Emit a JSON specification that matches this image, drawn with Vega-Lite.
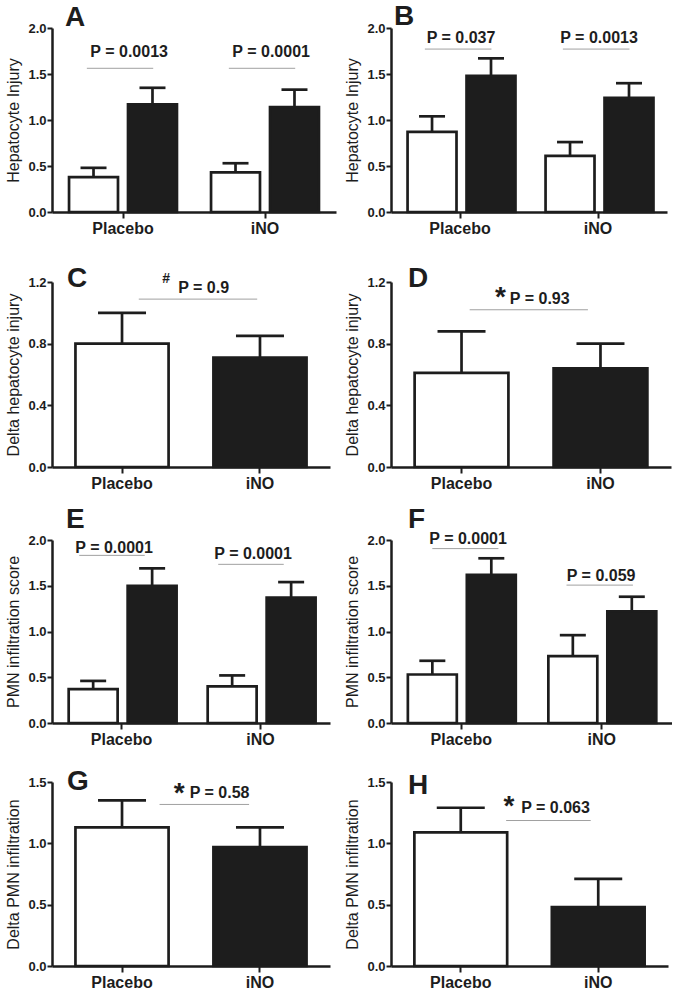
{
"$schema":"https://vega.github.io/schema/vega-lite/v6.json",
"padding":{"left":5,"top":2,"right":0,"bottom":0},
"columns":2,
"spacing":{"row":59,"column":55},
"bounds":"flush",
"align":"each",
"datasets":{
"bars":[
{"panel":"A","group":"Placebo","phase":"Before","mean":0.38,"upper":0.48},
{"panel":"A","group":"Placebo","phase":"After","mean":1.17,"upper":1.35},
{"panel":"A","group":"iNO","phase":"Before","mean":0.43,"upper":0.53},
{"panel":"A","group":"iNO","phase":"After","mean":1.14,"upper":1.33},
{"panel":"B","group":"Placebo","phase":"Before","mean":0.87,"upper":1.04},
{"panel":"B","group":"Placebo","phase":"After","mean":1.48,"upper":1.67},
{"panel":"B","group":"iNO","phase":"Before","mean":0.61,"upper":0.76},
{"panel":"B","group":"iNO","phase":"After","mean":1.24,"upper":1.40},
{"panel":"C","group":"Placebo","mean":0.80,"upper":1.00},
{"panel":"C","group":"iNO","mean":0.71,"upper":0.85},
{"panel":"D","group":"Placebo","mean":0.61,"upper":0.88},
{"panel":"D","group":"iNO","mean":0.64,"upper":0.80},
{"panel":"E","group":"Placebo","phase":"Before","mean":0.37,"upper":0.46},
{"panel":"E","group":"Placebo","phase":"After","mean":1.50,"upper":1.69},
{"panel":"E","group":"iNO","phase":"Before","mean":0.40,"upper":0.52},
{"panel":"E","group":"iNO","phase":"After","mean":1.37,"upper":1.54},
{"panel":"F","group":"Placebo","phase":"Before","mean":0.53,"upper":0.68},
{"panel":"F","group":"Placebo","phase":"After","mean":1.62,"upper":1.80},
{"panel":"F","group":"iNO","phase":"Before","mean":0.73,"upper":0.96},
{"panel":"F","group":"iNO","phase":"After","mean":1.22,"upper":1.38},
{"panel":"G","group":"Placebo","mean":1.13,"upper":1.35},
{"panel":"G","group":"iNO","mean":0.97,"upper":1.13},
{"panel":"H","group":"Placebo","mean":1.09,"upper":1.29},
{"panel":"H","group":"iNO","mean":0.48,"upper":0.71}
]
},
"concat":[
{
"width":284,"height":184,
"title":{"text":"A","dx":13,"offset":-9.5},
"layer":[
{"data":{"name":"bars"},"transform":[{"filter":"datum.panel === 'A'"}],
"encoding":{
"x":{"field":"group","type":"nominal","title":null,"scale":{"domain":["Placebo","iNO"],"paddingInner":0.24,"paddingOuter":0.12},"axis":{"labelAngle":0}},
"xOffset":{"field":"phase","type":"nominal","scale":{"domain":["Before","After"],"paddingInner":0.17,"paddingOuter":0}}},
"layer":[
{"mark":{"type":"bar","stroke":"#1d1d1d","strokeWidth":2.7},
"encoding":{"y":{"field":"mean","type":"quantitative","title":"Hepatocyte Injury","scale":{"domain":[0,2],"nice":false},"axis":{"values":[0,0.5,1,1.5,2],"format":".1f"}},
"fill":{"field":"phase","type":"nominal","scale":{"domain":["Before","After"],"range":["#ffffff","#1d1d1d"]},"legend":null}}},
{"mark":{"type":"rule","stroke":"#1d1d1d","strokeWidth":2.7},
"encoding":{"y":{"field":"mean","type":"quantitative","title":"Hepatocyte Injury"},"y2":{"field":"upper"}}},
{"mark":{"type":"tick","orient":"horizontal","size":26,"thickness":2.7,"color":"#1d1d1d","opacity":1},
"encoding":{"y":{"field":"upper","type":"quantitative","title":"Hepatocyte Injury"}}}
]},
{"data":{"values":[{"group":"Placebo","label":"P = 0.0013"},{"group":"iNO","label":"P = 0.0001"}]},
"layer":[
{"mark":{"type":"rule","stroke":"#a0a0a0","strokeWidth":1},
"encoding":{"x":{"field":"group","type":"nominal","title":null,"bandPosition":0.165},"x2":{"field":"group","bandPosition":0.78},"y":{"datum":1.562,"type":"quantitative","title":"Hepatocyte Injury"}}},
{"mark":{"type":"text","fontSize":16,"fontWeight":"bold","baseline":"alphabetic","color":"#1d1d1d"},
"encoding":{"x":{"field":"group","type":"nominal","title":null,"bandPosition":0.557},"y":{"datum":1.69,"type":"quantitative","title":"Hepatocyte Injury"},"text":{"field":"label"}}}
]}
]
},
{
"width":276,"height":184,
"title":{"text":"B","dx":3,"offset":-8.5},
"layer":[
{"data":{"name":"bars"},"transform":[{"filter":"datum.panel === 'B'"}],
"encoding":{
"x":{"field":"group","type":"nominal","title":null,"scale":{"domain":["Placebo","iNO"],"paddingInner":0.24,"paddingOuter":0.12},"axis":{"labelAngle":0}},
"xOffset":{"field":"phase","type":"nominal","scale":{"domain":["Before","After"],"paddingInner":0.17,"paddingOuter":0}}},
"layer":[
{"mark":{"type":"bar","stroke":"#1d1d1d","strokeWidth":2.7},
"encoding":{"y":{"field":"mean","type":"quantitative","title":"Hepatocyte Injury","scale":{"domain":[0,2],"nice":false},"axis":{"values":[0,0.5,1,1.5,2],"format":".1f"}},
"fill":{"field":"phase","type":"nominal","scale":{"domain":["Before","After"],"range":["#ffffff","#1d1d1d"]},"legend":null}}},
{"mark":{"type":"rule","stroke":"#1d1d1d","strokeWidth":2.7},
"encoding":{"y":{"field":"mean","type":"quantitative","title":"Hepatocyte Injury"},"y2":{"field":"upper"}}},
{"mark":{"type":"tick","orient":"horizontal","size":26,"thickness":2.7,"color":"#1d1d1d","opacity":1},
"encoding":{"y":{"field":"upper","type":"quantitative","title":"Hepatocyte Injury"}}}
]},
{"data":{"values":[{"group":"Placebo","label":"P = 0.037"},{"group":"iNO","label":"P = 0.0013"}]},
"layer":[
{"mark":{"type":"rule","stroke":"#a0a0a0","strokeWidth":1},
"encoding":{"x":{"field":"group","type":"nominal","title":null,"bandPosition":0.165},"x2":{"field":"group","bandPosition":0.8},"y":{"datum":1.771,"type":"quantitative","title":"Hepatocyte Injury"}}},
{"mark":{"type":"text","fontSize":16,"fontWeight":"bold","baseline":"alphabetic","color":"#1d1d1d"},
"encoding":{"x":{"field":"group","type":"nominal","title":null,"bandPosition":0.51},"y":{"datum":1.836,"type":"quantitative","title":"Hepatocyte Injury"},"text":{"field":"label"}}}
]}
]
},
{
"width":278,"height":196,
"title":{"text":"C","dx":15,"offset":-22},
"layer":[
{"data":{"name":"bars"},"transform":[{"filter":"datum.panel === 'C'"}],
"encoding":{
"x":{"field":"group","type":"nominal","title":null,"scale":{"domain":["Placebo","iNO"],"paddingInner":0.325,"paddingOuter":0.17},"axis":{"labelAngle":0}}},
"layer":[
{"mark":{"type":"bar","stroke":"#1d1d1d","strokeWidth":2.7},
"encoding":{"y":{"field":"mean","type":"quantitative","title":"Delta hepatocyte injury","scale":{"domain":[0,1.2],"nice":false,"range":[196,11]},"axis":{"values":[0,0.4,0.8,1.2],"format":".1f"}},
"fill":{"field":"group","type":"nominal","scale":{"domain":["Placebo","iNO"],"range":["#ffffff","#1d1d1d"]},"legend":null}}},
{"mark":{"type":"rule","stroke":"#1d1d1d","strokeWidth":2.7},
"encoding":{"y":{"field":"mean","type":"quantitative","title":"Delta hepatocyte injury"},"y2":{"field":"upper"}}},
{"mark":{"type":"tick","orient":"horizontal","size":48,"thickness":2.7,"color":"#1d1d1d","opacity":1},
"encoding":{"y":{"field":"upper","type":"quantitative","title":"Delta hepatocyte injury"}}}
]},
{"data":{"values":[{"from":"Placebo","to":"iNO","label":"P = 0.9","sign":"#"}]},
"layer":[
{"mark":{"type":"rule","stroke":"#a0a0a0","strokeWidth":1},
"encoding":{"x":{"field":"from","type":"nominal","title":null,"bandPosition":0.68},"x2":{"field":"to","bandPosition":0.47},"y":{"datum":1.089,"type":"quantitative","title":"Delta hepatocyte injury"}}},
{"mark":{"type":"text","fontSize":16,"fontWeight":"bold","baseline":"alphabetic","color":"#1d1d1d"},
"encoding":{"x":{"field":"from","type":"nominal","title":null,"bandPosition":1.376},"y":{"datum":1.128,"type":"quantitative","title":"Delta hepatocyte injury"},"text":{"field":"label"}}},
{"mark":{"type":"text","fontSize":14,"fontWeight":"bold","baseline":"alphabetic","color":"#1d1d1d"},
"encoding":{"x":{"field":"from","type":"nominal","title":null,"bandPosition":0.975},"y":{"datum":1.193,"type":"quantitative","title":"Delta hepatocyte injury"},"text":{"field":"sign"}}}
]}
]
},
{
"width":280,"height":196,
"title":{"text":"D","dx":17,"offset":-22},
"layer":[
{"data":{"name":"bars"},"transform":[{"filter":"datum.panel === 'D'"}],
"encoding":{
"x":{"field":"group","type":"nominal","title":null,"scale":{"domain":["Placebo","iNO"],"paddingInner":0.325,"paddingOuter":0.17},"axis":{"labelAngle":0}}},
"layer":[
{"mark":{"type":"bar","stroke":"#1d1d1d","strokeWidth":2.7},
"encoding":{"y":{"field":"mean","type":"quantitative","title":"Delta hepatocyte injury","scale":{"domain":[0,1.2],"nice":false,"range":[196,11]},"axis":{"values":[0,0.4,0.8,1.2],"format":".1f"}},
"fill":{"field":"group","type":"nominal","scale":{"domain":["Placebo","iNO"],"range":["#ffffff","#1d1d1d"]},"legend":null}}},
{"mark":{"type":"rule","stroke":"#1d1d1d","strokeWidth":2.7},
"encoding":{"y":{"field":"mean","type":"quantitative","title":"Delta hepatocyte injury"},"y2":{"field":"upper"}}},
{"mark":{"type":"tick","orient":"horizontal","size":48,"thickness":2.7,"color":"#1d1d1d","opacity":1},
"encoding":{"y":{"field":"upper","type":"quantitative","title":"Delta hepatocyte injury"}}}
]},
{"data":{"values":[{"from":"Placebo","to":"iNO","label":"P = 0.93","sign":"*"}]},
"layer":[
{"mark":{"type":"rule","stroke":"#a0a0a0","strokeWidth":1},
"encoding":{"x":{"field":"from","type":"nominal","title":null,"bandPosition":0.587},"x2":{"field":"to","bandPosition":0.366},"y":{"datum":1.02,"type":"quantitative","title":"Delta hepatocyte injury"}}},
{"mark":{"type":"text","fontSize":16,"fontWeight":"bold","baseline":"alphabetic","color":"#1d1d1d"},
"encoding":{"x":{"field":"from","type":"nominal","title":null,"bandPosition":1.334},"y":{"datum":1.059,"type":"quantitative","title":"Delta hepatocyte injury"},"text":{"field":"label"}}},
{"mark":{"type":"text","fontSize":28,"fontWeight":"bold","baseline":"alphabetic","color":"#1d1d1d"},
"encoding":{"x":{"field":"from","type":"nominal","title":null,"bandPosition":0.916},"y":{"datum":1.043,"type":"quantitative","title":"Delta hepatocyte injury"},"text":{"field":"sign"}}}
]}
]
},
{
"width":278,"height":197,
"title":{"text":"E","dx":14,"offset":-8},
"layer":[
{"data":{"name":"bars"},"transform":[{"filter":"datum.panel === 'E'"}],
"encoding":{
"x":{"field":"group","type":"nominal","title":null,"scale":{"domain":["Placebo","iNO"],"paddingInner":0.24,"paddingOuter":0.12},"axis":{"labelAngle":0}},
"xOffset":{"field":"phase","type":"nominal","scale":{"domain":["Before","After"],"paddingInner":0.17,"paddingOuter":0}}},
"layer":[
{"mark":{"type":"bar","stroke":"#1d1d1d","strokeWidth":2.7},
"encoding":{"y":{"field":"mean","type":"quantitative","title":"PMN infiltration score","scale":{"domain":[0,2],"nice":false,"range":[197,14]},"axis":{"values":[0,0.5,1,1.5,2],"format":".1f"}},
"fill":{"field":"phase","type":"nominal","scale":{"domain":["Before","After"],"range":["#ffffff","#1d1d1d"]},"legend":null}}},
{"mark":{"type":"rule","stroke":"#1d1d1d","strokeWidth":2.7},
"encoding":{"y":{"field":"mean","type":"quantitative","title":"PMN infiltration score"},"y2":{"field":"upper"}}},
{"mark":{"type":"tick","orient":"horizontal","size":26,"thickness":2.7,"color":"#1d1d1d","opacity":1},
"encoding":{"y":{"field":"upper","type":"quantitative","title":"PMN infiltration score"}}}
]},
{"data":{"values":[{"group":"Placebo","label":"P = 0.0001"}]},
"layer":[
{"mark":{"type":"rule","stroke":"#a0a0a0","strokeWidth":1},
"encoding":{"x":{"field":"group","type":"nominal","title":null,"bandPosition":0.1},"x2":{"field":"group","bandPosition":0.72},"y":{"datum":1.832,"type":"quantitative","title":"PMN infiltration score"}}},
{"mark":{"type":"text","fontSize":16,"fontWeight":"bold","baseline":"alphabetic","color":"#1d1d1d"},
"encoding":{"x":{"field":"group","type":"nominal","title":null,"bandPosition":0.43},"y":{"datum":1.86,"type":"quantitative","title":"PMN infiltration score"},"text":{"field":"label"}}}
]},
{"data":{"values":[{"group":"iNO","label":"P = 0.0001"}]},
"layer":[
{"mark":{"type":"rule","stroke":"#a0a0a0","strokeWidth":1},
"encoding":{"x":{"field":"group","type":"nominal","title":null,"bandPosition":0.1},"x2":{"field":"group","bandPosition":0.72},"y":{"datum":1.734,"type":"quantitative","title":"PMN infiltration score"}}},
{"mark":{"type":"text","fontSize":16,"fontWeight":"bold","baseline":"alphabetic","color":"#1d1d1d"},
"encoding":{"x":{"field":"group","type":"nominal","title":null,"bandPosition":0.43},"y":{"datum":1.795,"type":"quantitative","title":"PMN infiltration score"},"text":{"field":"label"}}}
]}
]
},
{
"width":281,"height":197,
"title":{"text":"F","dx":17,"offset":-8},
"layer":[
{"data":{"name":"bars"},"transform":[{"filter":"datum.panel === 'F'"}],
"encoding":{
"x":{"field":"group","type":"nominal","title":null,"scale":{"domain":["Placebo","iNO"],"paddingInner":0.24,"paddingOuter":0.12},"axis":{"labelAngle":0}},
"xOffset":{"field":"phase","type":"nominal","scale":{"domain":["Before","After"],"paddingInner":0.17,"paddingOuter":0}}},
"layer":[
{"mark":{"type":"bar","stroke":"#1d1d1d","strokeWidth":2.7},
"encoding":{"y":{"field":"mean","type":"quantitative","title":"PMN infiltration score","scale":{"domain":[0,2],"nice":false,"range":[197,14]},"axis":{"values":[0,0.5,1,1.5,2],"format":".1f"}},
"fill":{"field":"phase","type":"nominal","scale":{"domain":["Before","After"],"range":["#ffffff","#1d1d1d"]},"legend":null}}},
{"mark":{"type":"rule","stroke":"#1d1d1d","strokeWidth":2.7},
"encoding":{"y":{"field":"mean","type":"quantitative","title":"PMN infiltration score"},"y2":{"field":"upper"}}},
{"mark":{"type":"tick","orient":"horizontal","size":26,"thickness":2.7,"color":"#1d1d1d","opacity":1},
"encoding":{"y":{"field":"upper","type":"quantitative","title":"PMN infiltration score"}}}
]},
{"data":{"values":[{"group":"Placebo","label":"P = 0.0001"}]},
"layer":[
{"mark":{"type":"rule","stroke":"#a0a0a0","strokeWidth":1},
"encoding":{"x":{"field":"group","type":"nominal","title":null,"bandPosition":0.229},"x2":{"field":"group","bandPosition":0.848},"y":{"datum":1.906,"type":"quantitative","title":"PMN infiltration score"}}},
{"mark":{"type":"text","fontSize":16,"fontWeight":"bold","baseline":"alphabetic","color":"#1d1d1d"},
"encoding":{"x":{"field":"group","type":"nominal","title":null,"bandPosition":0.564},"y":{"datum":1.953,"type":"quantitative","title":"PMN infiltration score"},"text":{"field":"label"}}}
]},
{"data":{"values":[{"group":"iNO","label":"P = 0.059"}]},
"layer":[
{"mark":{"type":"rule","stroke":"#a0a0a0","strokeWidth":1},
"encoding":{"x":{"field":"group","type":"nominal","title":null,"bandPosition":0.17},"x2":{"field":"group","bandPosition":0.792},"y":{"datum":1.507,"type":"quantitative","title":"PMN infiltration score"}}},
{"mark":{"type":"text","fontSize":16,"fontWeight":"bold","baseline":"alphabetic","color":"#1d1d1d"},
"encoding":{"x":{"field":"group","type":"nominal","title":null,"bandPosition":0.494},"y":{"datum":1.553,"type":"quantitative","title":"PMN infiltration score"},"text":{"field":"label"}}}
]}
]
},
{
"width":278,"height":184,
"title":{"text":"G","dx":15,"offset":-19.5},
"layer":[
{"data":{"name":"bars"},"transform":[{"filter":"datum.panel === 'G'"}],
"encoding":{
"x":{"field":"group","type":"nominal","title":null,"scale":{"domain":["Placebo","iNO"],"paddingInner":0.325,"paddingOuter":0.17},"axis":{"labelAngle":0}}},
"layer":[
{"mark":{"type":"bar","stroke":"#1d1d1d","strokeWidth":2.7},
"encoding":{"y":{"field":"mean","type":"quantitative","title":"Delta PMN infiltration","scale":{"domain":[0,1.5],"nice":false},"axis":{"values":[0,0.5,1,1.5],"format":".1f"}},
"fill":{"field":"group","type":"nominal","scale":{"domain":["Placebo","iNO"],"range":["#ffffff","#1d1d1d"]},"legend":null}}},
{"mark":{"type":"rule","stroke":"#1d1d1d","strokeWidth":2.7},
"encoding":{"y":{"field":"mean","type":"quantitative","title":"Delta PMN infiltration"},"y2":{"field":"upper"}}},
{"mark":{"type":"tick","orient":"horizontal","size":48,"thickness":2.7,"color":"#1d1d1d","opacity":1},
"encoding":{"y":{"field":"upper","type":"quantitative","title":"Delta PMN infiltration"}}}
]},
{"data":{"values":[{"from":"Placebo","to":"iNO","label":"P = 0.58","sign":"*"}]},
"layer":[
{"mark":{"type":"rule","stroke":"#a0a0a0","strokeWidth":1},
"encoding":{"x":{"field":"from","type":"nominal","title":null,"bandPosition":0.903},"x2":{"field":"to","bandPosition":0.383},"y":{"datum":1.317,"type":"quantitative","title":"Delta PMN infiltration"}}},
{"mark":{"type":"text","fontSize":16,"fontWeight":"bold","baseline":"alphabetic","color":"#1d1d1d"},
"encoding":{"x":{"field":"from","type":"nominal","title":null,"bandPosition":1.548},"y":{"datum":1.372,"type":"quantitative","title":"Delta PMN infiltration"},"text":{"field":"label"}}},
{"mark":{"type":"text","fontSize":28,"fontWeight":"bold","baseline":"alphabetic","color":"#1d1d1d"},
"encoding":{"x":{"field":"from","type":"nominal","title":null,"bandPosition":1.115},"y":{"datum":1.34,"type":"quantitative","title":"Delta PMN infiltration"},"text":{"field":"sign"}}}
]}
]
},
{
"width":277,"height":184,
"title":{"text":"H","dx":17,"offset":-23.5},
"layer":[
{"data":{"name":"bars"},"transform":[{"filter":"datum.panel === 'H'"}],
"encoding":{
"x":{"field":"group","type":"nominal","title":null,"scale":{"domain":["Placebo","iNO"],"paddingInner":0.325,"paddingOuter":0.17},"axis":{"labelAngle":0}}},
"layer":[
{"mark":{"type":"bar","stroke":"#1d1d1d","strokeWidth":2.7},
"encoding":{"y":{"field":"mean","type":"quantitative","title":"Delta PMN infiltration","scale":{"domain":[0,1.5],"nice":false},"axis":{"values":[0,0.5,1,1.5],"format":".1f"}},
"fill":{"field":"group","type":"nominal","scale":{"domain":["Placebo","iNO"],"range":["#ffffff","#1d1d1d"]},"legend":null}}},
{"mark":{"type":"rule","stroke":"#1d1d1d","strokeWidth":2.7},
"encoding":{"y":{"field":"mean","type":"quantitative","title":"Delta PMN infiltration"},"y2":{"field":"upper"}}},
{"mark":{"type":"tick","orient":"horizontal","size":48,"thickness":2.7,"color":"#1d1d1d","opacity":1},
"encoding":{"y":{"field":"upper","type":"quantitative","title":"Delta PMN infiltration"}}}
]},
{"data":{"values":[{"from":"Placebo","to":"iNO","label":"P = 0.063","sign":"*"}]},
"layer":[
{"mark":{"type":"rule","stroke":"#a0a0a0","strokeWidth":1},
"encoding":{"x":{"field":"from","type":"nominal","title":null,"bandPosition":0.989},"x2":{"field":"to","bandPosition":0.419},"y":{"datum":1.186,"type":"quantitative","title":"Delta PMN infiltration"}}},
{"mark":{"type":"text","fontSize":16,"fontWeight":"bold","baseline":"alphabetic","color":"#1d1d1d"},
"encoding":{"x":{"field":"from","type":"nominal","title":null,"bandPosition":1.521},"y":{"datum":1.245,"type":"quantitative","title":"Delta PMN infiltration"},"text":{"field":"label"}}},
{"mark":{"type":"text","fontSize":28,"fontWeight":"bold","baseline":"alphabetic","color":"#1d1d1d"},
"encoding":{"x":{"field":"from","type":"nominal","title":null,"bandPosition":1.02},"y":{"datum":1.231,"type":"quantitative","title":"Delta PMN infiltration"},"text":{"field":"sign"}}}
]}
]
}
],
"config":{
"font":"Liberation Sans",
"view":{"stroke":null},
"axis":{"domainColor":"#1d1d1d","domainWidth":2.5,"tickColor":"#1d1d1d","tickWidth":2,"labelColor":"#1d1d1d","labelFont":"Liberation Sans","labelFontWeight":"bold","titleColor":"#1d1d1d","titleFont":"Liberation Sans","titleFontWeight":"normal","grid":false},
"axisY":{"labelFontSize":13,"tickSize":5,"labelPadding":1,"titleFontSize":16,"minExtent":26,"maxExtent":26,"titlePadding":5},
"axisX":{"labelFontSize":16,"tickSize":6,"labelPadding":2},
"title":{"font":"Liberation Sans","fontSize":28,"fontWeight":"bold","color":"#1d1d1d","anchor":"start","frame":"group","baseline":"alphabetic"}
}
}
